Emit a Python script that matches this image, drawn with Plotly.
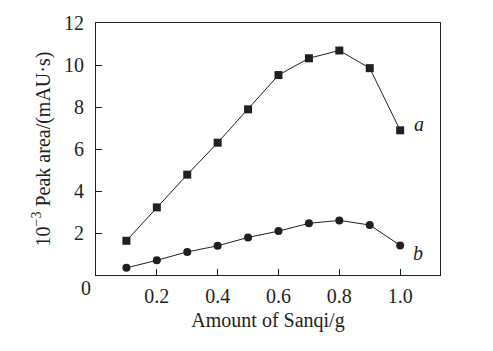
import plotly.graph_objects as go

x_vals = [0.1, 0.2, 0.3, 0.4, 0.5, 0.6, 0.7, 0.8, 0.9, 1.0]
series_a = [1.63, 3.22, 4.78, 6.30, 7.89, 9.52, 10.32, 10.69, 9.85, 6.89]
series_b = [0.34, 0.70, 1.10, 1.39, 1.79, 2.09, 2.46, 2.60, 2.38, 1.41]
x_ticks = [0.2, 0.4, 0.6, 0.8, 1.0]
x_tick_text = ["0.2", "0.4", "0.6", "0.8", "1.0"]
y_ticks = [2, 4, 6, 8, 10, 12]

FONT = "Liberation Serif"
col = "#231f20"

fig = go.Figure()
fig.add_trace(go.Scatter(x=x_vals, y=series_a, mode="lines+markers",
                         line=dict(color=col, width=1),
                         marker=dict(symbol="square", size=8, color=col)))
fig.add_trace(go.Scatter(x=x_vals, y=series_b, mode="lines+markers",
                         line=dict(color=col, width=1),
                         marker=dict(symbol="circle", size=8, color=col)))

fig.add_annotation(x=1.0, y=series_a[-1], text="<i>a</i>", showarrow=False,
                   xanchor="left", xshift=12, yshift=6, font=dict(family=FONT, size=20, color=col))
fig.add_annotation(x=1.0, y=series_b[-1], text="<i>b</i>", showarrow=False,
                   xanchor="left", xshift=11, yshift=-8, font=dict(family=FONT, size=20, color=col))
fig.add_annotation(x=0, y=0, xref="x", yref="y", text="0", showarrow=False,
                   xanchor="right", yanchor="top", xshift=-3, yshift=0,
                   font=dict(family=FONT, size=20, color=col))

fig.update_layout(
    width=493, height=351,
    margin=dict(l=96, r=53, t=18, b=76),
    paper_bgcolor="white", plot_bgcolor="white",
    showlegend=False,
    font=dict(family=FONT, size=20, color=col),
    xaxis=dict(range=[0, 1.131], tickvals=x_ticks, ticktext=x_tick_text,
               ticks="inside", ticklen=6, tickcolor=col, tickwidth=1,
               tickfont=dict(family=FONT, size=20, color=col),
               showline=True, linecolor=col, linewidth=1, mirror=True,
               showgrid=False, zeroline=False, ticklabelstandoff=3,
               title=dict(text="Amount of Sanqi/g", standoff=6,
                          font=dict(family=FONT, size=20, color=col))),
    yaxis=dict(range=[0, 12], tickvals=y_ticks,
               ticks="inside", ticklen=6, tickcolor=col, tickwidth=1,
               tickfont=dict(family=FONT, size=20, color=col),
               showline=True, linecolor=col, linewidth=1, mirror=True,
               showgrid=False, zeroline=False, ticklabelstandoff=7,
               title=dict(text="10<sup>−3</sup> Peak area/(mAU·s)", standoff=8,
                          font=dict(family=FONT, size=20, color=col))),
)

fig.write_html("out.html")
